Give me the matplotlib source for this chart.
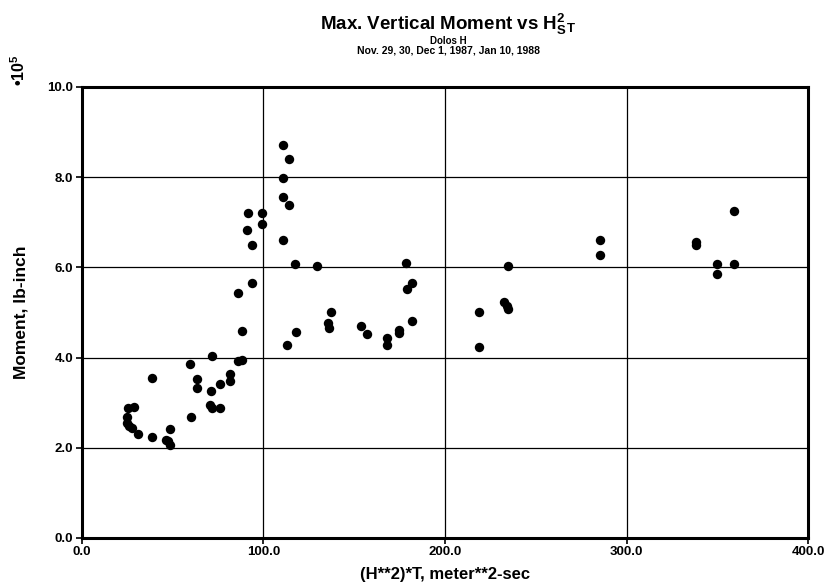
import matplotlib
matplotlib.use("Agg")
import matplotlib.pyplot as plt

plt.rcParams['font.family'] = ['Liberation Sans', 'DejaVu Sans']
plt.rcParams['mathtext.fontset'] = 'custom'
plt.rcParams['mathtext.rm'] = 'Liberation Sans:bold'
plt.rcParams['mathtext.bf'] = 'Liberation Sans:bold'
plt.rcParams['mathtext.it'] = 'Liberation Sans:bold'
plt.rcParams['mathtext.default'] = 'bf'

# data: H^2*T (m^2-sec) vs max vertical moment (x 1e5 lb-inch)
hst = [71.6, 86.2, 88.4, 59.6, 38.5, 81.6, 81.6, 63.6, 63.6, 76.1,
       71.2, 70.6, 71.6, 76.1, 60.0, 25.7, 29.0, 24.8, 24.8, 26.2,
       27.5, 30.8, 38.5, 48.6, 46.4, 47.7, 48.6,
       111.0, 114.3, 111.0, 111.0, 114.3, 91.7, 99.1, 99.1, 91.2,
       93.9, 111.0, 117.4, 129.7, 93.9, 86.2, 88.1, 118.0, 113.3,
       137.1, 135.8, 136.4, 178.5, 181.7, 178.9, 153.6, 156.9, 181.7,
       174.8, 174.8, 168.2, 168.2,
       234.5, 232.6, 234.0, 234.8, 218.9, 218.9,
       285.6, 285.6, 359.1, 338.2, 338.2, 349.9, 359.1, 349.9]
moment = [4.04, 3.92, 3.94, 3.85, 3.54, 3.64, 3.48, 3.53, 3.32, 3.41,
          3.27, 2.95, 2.89, 2.89, 2.69, 2.89, 2.91, 2.69, 2.56, 2.48,
          2.43, 2.31, 2.25, 2.41, 2.17, 2.14, 2.06,
          8.71, 8.40, 7.99, 7.55, 7.39, 7.20, 7.20, 6.96, 6.82,
          6.49, 6.61, 6.08, 6.02, 5.65, 5.43, 4.59, 4.56, 4.28,
          5.01, 4.77, 4.65, 6.10, 5.66, 5.52, 4.70, 4.52, 4.82,
          4.61, 4.55, 4.43, 4.28,
          6.04, 5.24, 5.14, 5.08, 5.00, 4.23,
          6.61, 6.27, 7.26, 6.57, 6.50, 6.08, 6.07, 5.85]

x_ticks = [0, 100, 200, 300, 400]
x_labels = ['0.0', '100.0', '200.0', '300.0', '400.0']
y_ticks = [0, 2, 4, 6, 8, 10]
y_labels = ['0.0', '2.0', '4.0', '6.0', '8.0', '10.0']

fig = plt.figure(figsize=(8.35, 5.83), dpi=100)
ax = fig.add_axes([0.0978, 0.0772, 0.8702, 0.7736])

ax.scatter(hst, moment, s=46, color='black', zorder=3, linewidths=0)

ax.set_xlim(0, 400)
ax.set_ylim(0, 10)
ax.set_xticks(x_ticks)
ax.set_xticklabels(x_labels)
ax.set_yticks(y_ticks)
ax.set_yticklabels(y_labels)
ax.grid(True, color='black', linewidth=0.9)
ax.set_axisbelow(True)
for sp in ax.spines.values():
    sp.set_linewidth(2.2)
    sp.set_color('black')
ax.tick_params(direction='out', length=4, width=1.2, labelsize=9.5, pad=2)
for lab in ax.get_xticklabels() + ax.get_yticklabels():
    lab.set_fontweight('bold')

ax.set_xlabel('(H**2)*T, meter**2-sec', fontsize=12, fontweight='bold', labelpad=6)
ax.set_ylabel('Moment, lb-inch', fontsize=12.5, fontweight='bold', labelpad=14)

fig.text(0.537, 0.958, r'Max. Vertical Moment vs H$_\mathbf{S}^\mathbf{2}$$_\mathbf{T}$',
         ha='center', va='center', fontsize=13.5, fontweight='bold')
fig.text(0.537, 0.930, 'Dolos H', ha='center', va='center', fontsize=7, fontweight='bold')
fig.text(0.537, 0.913, 'Nov. 29, 30, Dec 1, 1987, Jan 10, 1988', ha='center', va='center',
         fontsize=7.5, fontweight='bold')
fig.text(0.022, 0.880, '\u202210$^\\mathbf{5}$', rotation=90, ha='center', va='center',
         fontsize=11.5, fontweight='bold')

fig.savefig('out.png', dpi=100)
